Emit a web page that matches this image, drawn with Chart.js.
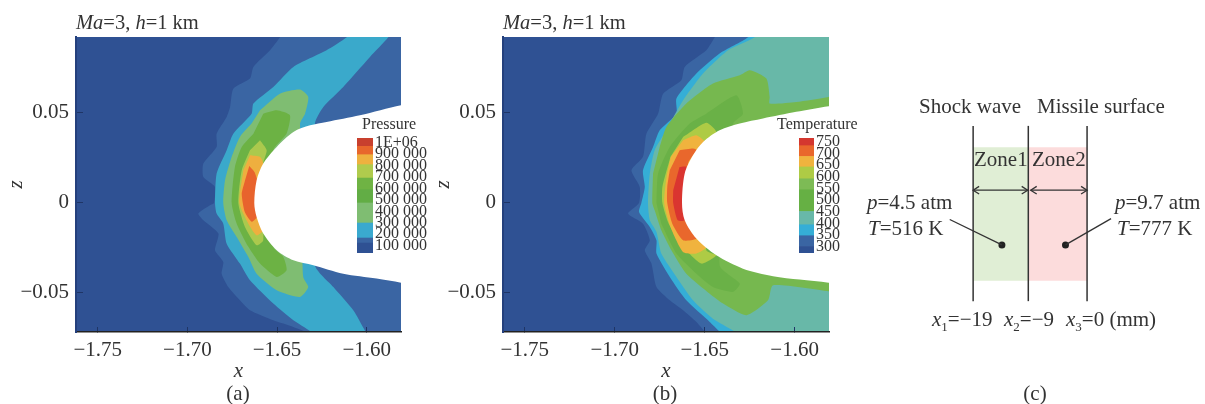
<!DOCTYPE html>
<html>
<head>
<meta charset="utf-8">
<script src="https://cdn.jsdelivr.net/npm/chart.js@4/dist/chart.umd.min.js"></script>
<style>
  html, body { margin: 0; padding: 0; background: #fff; }
  #page { position: relative; width: 1205px; height: 404px; overflow: hidden; font-family: "Liberation Serif", serif; color: #333; }
  canvas { position: absolute; }
  .t { position: absolute; white-space: nowrap; transform: translateY(-50%); font-size: 21px; line-height: 1; }
  .c { transform: translate(-50%, -50%); }
  .s { font-size: 16px; }
  sub { font-size: 13px; line-height: 0; }
</style>
</head>
<body>
<div id="page">
  <canvas id="panelA" width="430" height="404" style="left:0;top:0"></canvas>
  <canvas id="panelB" width="430" height="404" style="left:427px;top:0"></canvas>
  <canvas id="panelC" width="345" height="324" style="left:860px;top:80px"></canvas>
  <canvas id="barA" width="90" height="150" style="left:345px;top:115px"></canvas>
  <canvas id="barB" width="60" height="150" style="left:787px;top:115px"></canvas>

  <div class="t" style="left:76px;top:22px;font-size:20.5px"><i>Ma</i>=3, <i>h</i>=1 km</div>
  <div class="t" style="left:503px;top:22px;font-size:20.5px"><i>Ma</i>=3, <i>h</i>=1 km</div>
  <div class="t s" style="left:362px;top:124px">Pressure</div>
  <div class="t s" style="left:777px;top:124px">Temperature</div>
  <div class="t c" style="left:238px;top:393px">(a)</div>
  <div class="t c" style="left:665px;top:393px">(b)</div>
  <div class="t c" style="left:1035px;top:393px">(c)</div>

  <div class="t" style="left:919px;top:106px">Shock wave</div>
  <div class="t" style="left:1037px;top:106px">Missile surface</div>
  <div class="t" style="left:974px;top:159px">Zone1</div>
  <div class="t" style="left:1032px;top:159px">Zone2</div>
  <div class="t" style="left:867px;top:202px"><i>p</i>=4.5 atm</div>
  <div class="t" style="left:868px;top:228px"><i>T</i>=516 K</div>
  <div class="t" style="left:1115px;top:202px"><i>p</i>=9.7 atm</div>
  <div class="t" style="left:1117px;top:228px"><i>T</i>=777 K</div>
  <div class="t" style="left:932px;top:319px"><i>x</i><sub>1</sub>=−19</div>
  <div class="t" style="left:1004px;top:319px"><i>x</i><sub>2</sub>=−9</div>
  <div class="t" style="left:1066px;top:319px"><i>x</i><sub>3</sub>=0 (mm)</div>
</div>

<script>
// axis ticks
var xTicks = [-1.75, -1.70, -1.65, -1.60];
var zTicks = [-0.05, 0, 0.05];

// contour colours, outside to inside
var pressureColors = ["#2f5193", "#3a65a3", "#3aa9cb", "#7fbd72", "#6cb244", "#abc94d", "#eeaf3f", "#e8632d"];
var temperatureColors = ["#2f5193", "#3a65a3", "#35aed6", "#68b8a8", "#76b84f", "#6ab147", "#aecb45", "#f0b33e", "#e9672c", "#da3530"];

// far field, same for both panels
var farField = [[-1.8,0.1],[-1.57,0.1],[-1.57,-0.08],[-1.8,-0.08]];

// pressure contours as [x, z]
var p1 = [[-1.6440,0.1],[-1.6484,.0920],[-1.6539,.0848],[-1.6632,.0756],[-1.6651,.0691],[-1.6744,.0635],[-1.6762,.0533],[-1.6781,.0478],[-1.6837,.0385],[-1.6837,.0311],[-1.6911,.0219],[-1.6911,.0144],[-1.6846,.0089],[-1.6852,0],[-1.6874,-.0013],[-1.6939,-.0059],[-1.6911,-.0096],[-1.6827,-.0170],[-1.6846,-.0263],[-1.6800,-.0328],[-1.6809,-.0393],[-1.6772,-.0467],[-1.6707,-.0541],[-1.6651,-.0596],[-1.6521,-.0652],[-1.6409,-.0689],[-1.6326,-.0726],[-1.6300,-.08],[-1.57,-.08],[-1.57,0.1]];
var p2 = [[-1.6050,0.1],[-1.6112,.0920],[-1.6224,.0848],[-1.6409,.0756],[-1.6521,.0644],[-1.6632,.0552],[-1.6642,.0496],[-1.6744,.0385],[-1.6781,.0293],[-1.6837,.0163],[-1.6846,0],[-1.6837,-.0059],[-1.6800,-.0115],[-1.6781,-.0226],[-1.6707,-.0337],[-1.6651,-.0430],[-1.6521,-.0559],[-1.6409,-.0652],[-1.6298,-.0726],[-1.6260,-.08],[-1.5960,-.08],[-1.6001,-.0726],[-1.6075,-.0596],[-1.6186,-.0467],[-1.6289,-.0346],[-1.6289,.0441],[-1.6242,.0533],[-1.6131,.0644],[-1.5982,.0811],[-1.5880,.0920],[-1.5830,0.1]];
var p3 = [[-1.6595,.0515],[-1.6484,.0607],[-1.6372,.0630],[-1.6326,.0589],[-1.6344,.0496],[-1.6372,.0441],[-1.6354,-.0411],[-1.6326,-.0467],[-1.6372,-.0522],[-1.6502,-.0485],[-1.6614,-.0393],[-1.6660,-.0300],[-1.6725,-.0189],[-1.6781,-.0096],[-1.6800,0],[-1.6790,.0126],[-1.6753,.0256],[-1.6707,.0367],[-1.6642,.0441]];
var p4 = [[-1.6577,.0496],[-1.6502,.0515],[-1.6428,.0487],[-1.6447,.0385],[-1.6521,.0293],[-1.6521,-.0244],[-1.6465,-.0300],[-1.6447,-.0374],[-1.6502,-.0411],[-1.6595,-.0337],[-1.6660,-.0244],[-1.6725,-.0115],[-1.6753,0],[-1.6735,.0200],[-1.6697,.0311],[-1.6632,.0385]];
var p5 = [[-1.6595,.0348],[-1.6558,.0293],[-1.6577,.0219],[-1.6577,-.0207],[-1.6614,-.0235],[-1.6679,-.0133],[-1.6716,0],[-1.6697,.0181],[-1.6651,.0293]];
var p6 = [[-1.6651,.0265],[-1.6595,.0256],[-1.6577,.0219],[-1.6577,-.0152],[-1.6614,-.0180],[-1.6660,-.0115],[-1.6710,0],[-1.6688,.0181]];
var p7 = [[-1.6655,.0205],[-1.6625,.0170],[-1.6600,.0080],[-1.6600,-.0060],[-1.6640,-.0105],[-1.6680,-.0050],[-1.6697,.0050],[-1.6680,.0120]];
var pressureBody = [[-1.57,.0553],[-1.5809,.0543],[-1.6038,.0487],[-1.6224,.0450],[-1.6316,.0431],[-1.6409,.0394],[-1.6502,.0311],[-1.6577,.0219],[-1.6614,.0126],[-1.6627,0],[-1.6614,-.0078],[-1.6577,-.0170],[-1.6502,-.0263],[-1.6409,-.0319],[-1.6298,-.0346],[-1.6131,-.0393],[-1.5945,-.0420],[-1.5809,-.0443],[-1.57,-.0465]];

// temperature contours
var t1 = [[-1.6400,0.1],[-1.6444,.0920],[-1.6491,.0848],[-1.6611,.0756],[-1.6630,.0682],[-1.6731,.0607],[-1.6759,.0496],[-1.6824,.0385],[-1.6843,.0256],[-1.6907,.0181],[-1.6861,.0089],[-1.6865,0],[-1.6926,-.0059],[-1.6843,-.0115],[-1.6805,-.0207],[-1.6833,-.0263],[-1.6796,-.0337],[-1.6768,-.0467],[-1.6694,-.0541],[-1.6620,-.0596],[-1.6546,-.0661],[-1.6491,-.0726],[-1.6450,-.08],[-1.57,-.08],[-1.57,0.1]];
var t2 = [[-1.6200,0.1],[-1.6259,.0920],[-1.6417,.0830],[-1.6546,.0719],[-1.6657,.0580],[-1.6657,.0496],[-1.6750,.0404],[-1.6787,.0311],[-1.6843,.0181],[-1.6833,.0089],[-1.6852,0],[-1.6865,-.0050],[-1.6805,-.0133],[-1.6768,-.0207],[-1.6768,-.0281],[-1.6694,-.0411],[-1.6602,-.0541],[-1.6472,-.0661],[-1.6407,-.0726],[-1.6350,-.08],[-1.57,-.08],[-1.57,0.1]];
var t3 = [[-1.6150,0.1],[-1.6222,.0920],[-1.6370,.0848],[-1.6509,.0719],[-1.6620,.0570],[-1.6713,.0404],[-1.6778,.0293],[-1.6805,.0163],[-1.6815,0],[-1.6805,-.0096],[-1.6768,-.0161],[-1.6741,-.0281],[-1.6657,-.0411],[-1.6565,-.0541],[-1.6454,-.0643],[-1.6315,-.0726],[-1.6250,-.08],[-1.57,-.08],[-1.57,0.1]];
var t4 = [[-1.6750,.0311],[-1.6713,.0422],[-1.6602,.0552],[-1.6454,.0663],[-1.6305,.0709],[-1.6250,.0737],[-1.6157,.0691],[-1.6139,.0589],[-1.6139,.0552],[-1.5991,.0561],[-1.5811,.0589],[-1.57,.0610],[-1.57,-.0510],[-1.5811,-.0491],[-1.6120,-.0457],[-1.6148,-.0541],[-1.6268,-.0624],[-1.6398,-.0559],[-1.6472,-.0504],[-1.6602,-.0393],[-1.6685,-.0263],[-1.6741,-.0152],[-1.6778,-.0041],[-1.6791,0],[-1.6787,.0163]];
var t5 = [[-1.6768,0],[-1.6759,.0163],[-1.6694,.0311],[-1.6583,.0441],[-1.6491,.0496],[-1.6324,.0598],[-1.6287,.0496],[-1.6342,.0441],[-1.6417,-.0346],[-1.6305,-.0448],[-1.6342,-.0494],[-1.6454,-.0467],[-1.6546,-.0393],[-1.6657,-.0281],[-1.6741,-.0115]];
var t6 = [[-1.6620,.0367],[-1.6491,.0446],[-1.6435,.0394],[-1.6491,.0330],[-1.6491,-.0263],[-1.6435,-.0291],[-1.6518,-.0337],[-1.6620,-.0244],[-1.6700,-.0115],[-1.6735,0],[-1.6735,.0089],[-1.6690,.0256]];
var t7 = [[-1.6620,.0348],[-1.6546,.0376],[-1.6491,.0330],[-1.6537,.0293],[-1.6491,-.0244],[-1.6546,-.0281],[-1.6620,-.0272],[-1.6690,-.0133],[-1.6725,0],[-1.6712,.0144],[-1.6688,.0256]];
var t8 = [[-1.6639,.0293],[-1.6565,.0302],[-1.6546,.0293],[-1.6593,.0219],[-1.6593,-.0115],[-1.6546,-.0198],[-1.6620,-.0207],[-1.6680,-.0115],[-1.6708,0],[-1.6708,.0089],[-1.6694,.0181]];
var t9 = [[-1.6640,.0200],[-1.6602,.0200],[-1.6600,0],[-1.6611,-.0096],[-1.6650,-.0096],[-1.6675,0],[-1.6675,.0070]];
var temperatureBody = [[-1.57,.0550],[-1.5811,.0537],[-1.5991,.0506],[-1.6176,.0469],[-1.6305,.0441],[-1.6417,.0404],[-1.6509,.0339],[-1.6565,.0265],[-1.6611,.0163],[-1.6626,0],[-1.6611,-.0096],[-1.6546,-.0198],[-1.6435,-.0291],[-1.6287,-.0365],[-1.6120,-.0407],[-1.5972,-.0426],[-1.5811,-.0443],[-1.57,-.0460]];

// colour bars
var pressureLevels = [100000, 200000, 300000, 400000, 500000, 600000, 700000, 800000, 900000, 1000000];
var pressureEdges = [36000, 123000, 167000, 298000, 473000, 589000, 691000, 808000, 895000, 968000, 1041000];
var pressureBarColors = ["#2f5193", "#3a65a3", "#3aa9cf", "#7fbd72", "#62ad45", "#6fb344", "#b0cb4d", "#eeb13f", "#e8672c", "#c8402e"];
var temperatureLevels = [300, 350, 400, 450, 500, 550, 600, 650, 700, 750];
var temperatureEdges = [273, 301, 347, 394, 451, 544, 591, 642, 687, 733, 766];
var temperatureBarColors = ["#2f5193", "#3a65a3", "#35aed6", "#68b8a8", "#66b044", "#7dbb55", "#aecb45", "#f0b33e", "#e9672c", "#d4372f"];

// schematic (c), x in mm, y in schematic height 0..100
var zoneEdges = [-19, -9.8, 0];
var zoneBottom = 11.7, zoneTop = 87.8;
var lineBottom = 0, lineTop = 100;
var arrowY = 63.3;
var probeX = [-14.2, -3.6];
var probeY = 32.1;
var leaderX = [-22.9, 4.0];
var leaderY = [46.6, 47.1];

var serif = "'Liberation Serif', serif";
var inkColor = "#333";

function toPoints(list){
    return list.map(function(p){ return {x: p[0], y: p[1]}; });
}

function contourSets(levels, colors, body){
    var sets = [];
    for(let i = 0; i < levels.length; i++){
        sets.push({data: toPoints(levels[i]), showLine: true, fill: "shape", backgroundColor: colors[i],
            borderWidth: 0, pointRadius: 0, tension: 0.2, order: 50 - i});
    }
    sets.push({data: toPoints(body), showLine: true, fill: "shape", backgroundColor: "#fff",
        borderWidth: 0, pointRadius: 0, tension: 0.3, order: 1});
    return sets;
}

function contourChart(id, levels, colors, body, areaLeft, areaRight){
    var canvas = document.getElementById(id);
    return new Chart(id, {
        type: "scatter",
        data: {datasets: contourSets(levels, colors, body)},
        options: {
            responsive: false,
            animation: false,
            events: [],
            layout: {padding: {top: 37, right: canvas.width - areaRight, bottom: 0, left: 0}},
            plugins: {legend: {display: false}, tooltip: {enabled: false}},
            scales: {
                x: {
                    type: "linear", min: -1.7621, max: -1.5809,
                    afterBuildTicks: function(scale){ scale.ticks = xTicks.map(function(v){ return {value: v}; }); },
                    afterFit: function(scale){ scale.height = 72; },
                    grid: {drawOnChartArea: false, tickLength: -5, tickColor: "#1f3566", z: 1},
                    border: {display: true, color: "#222", width: 1.5, z: 1},
                    ticks: {
                        color: inkColor, font: {family: serif, size: 21}, padding: 11, maxRotation: 0, autoSkip: false,
                        callback: function(v){ return "\u2212" + Math.abs(v).toFixed(2); }
                    },
                    title: {display: true, text: "x", color: inkColor, font: {family: serif, size: 21, style: "italic"}, padding: {top: 0, bottom: 20}}
                },
                y: {
                    type: "linear", min: -0.0717, max: 0.0922,
                    afterBuildTicks: function(scale){ scale.ticks = zTicks.map(function(v){ return {value: v}; }); },
                    afterFit: function(scale){ scale.width = areaLeft; },
                    grid: {drawOnChartArea: false, tickLength: -7, tickColor: "#1f3566", z: 1},
                    border: {display: true, color: "#24407c", width: 2, z: 1},
                    ticks: {
                        color: inkColor, font: {family: serif, size: 21}, padding: 14, autoSkip: false,
                        callback: function(v){ return v == 0 ? "0" : (v < 0 ? "\u2212" : "") + Math.abs(v).toFixed(2); }
                    },
                    title: {display: true, text: "z", color: inkColor, font: {family: serif, size: 21, style: "italic"}, padding: {top: 4, bottom: 0}}
                }
            }
        }
    });
}

function colorBar(id, edges, colors, levels, label, padLeft, axisWidth){
    var sets = [];
    for(let i = 0; i < colors.length; i++){
        sets.push({data: [[edges[i], edges[i + 1]]], backgroundColor: colors[i], borderWidth: 0, barPercentage: 1, categoryPercentage: 1});
    }
    return new Chart(id, {
        type: "bar",
        data: {labels: [""], datasets: sets},
        options: {
            responsive: false,
            animation: false,
            events: [],
            layout: {padding: {top: 23, right: 0, bottom: 12, left: padLeft}},
            plugins: {legend: {display: false}, tooltip: {enabled: false}},
            scales: {
                x: {display: false, stacked: true},
                y: {
                    position: "right", min: edges[0], max: edges[edges.length - 1],
                    afterBuildTicks: function(scale){ scale.ticks = levels.map(function(v){ return {value: v}; }); },
                    afterFit: function(scale){ scale.width = axisWidth; },
                    grid: {display: false, drawTicks: false},
                    border: {display: false},
                    ticks: {color: inkColor, font: {family: serif, size: 16, lineHeight: 1}, padding: 2, autoSkip: false, callback: label}
                }
            }
        }
    });
}

function segment(points, width){
    return {data: toPoints(points), showLine: true, borderColor: inkColor, borderWidth: width || 1.3, pointRadius: 0, fill: false};
}

function arrowSets(x0, x1, y){
    return [
        segment([[x0, y], [x1, y]]),
        segment([[x0 + 1, y + 2.2], [x0, y], [x0 + 1, y - 2.2]]),
        segment([[x1 - 1, y + 2.2], [x1, y], [x1 - 1, y - 2.2]])
    ];
}

function schematic(){
    var sets = [];
    zoneEdges.forEach(function(x){ sets.push(segment([[x, lineBottom], [x, lineTop]], 1.5)); });
    sets = sets.concat(arrowSets(zoneEdges[0], zoneEdges[1] - 0.1, arrowY));
    sets = sets.concat(arrowSets(zoneEdges[1] + 0.4, zoneEdges[2], arrowY));
    for(let i = 0; i < probeX.length; i++){
        sets.push(segment([[leaderX[i], leaderY[i]], [probeX[i], probeY]]));
        sets.push({data: [{x: probeX[i], y: probeY}], pointRadius: 3.5, backgroundColor: "#222", borderWidth: 0});
    }
    var zoneColors = ["#e0eed5", "#fcdcdc"];
    for(let i = 0; i < 2; i++){
        sets.push({data: toPoints([[zoneEdges[i], zoneBottom], [zoneEdges[i + 1], zoneBottom], [zoneEdges[i + 1], zoneTop], [zoneEdges[i], zoneTop]]),
            showLine: true, fill: "shape", backgroundColor: zoneColors[i], borderWidth: 0, pointRadius: 0});
    }
    return new Chart("panelC", {
        type: "scatter",
        data: {datasets: sets},
        options: {
            responsive: false,
            animation: false,
            events: [],
            plugins: {legend: {display: false}, tooltip: {enabled: false}},
            scales: {
                x: {display: false, type: "linear", min: -37.2, max: 19.0},
                y: {display: false, type: "linear", min: -56.4, max: 123.9}
            }
        }
    });
}

contourChart("panelA", [farField, p1, p2, p3, p4, p5, p6, p7], pressureColors, pressureBody, 76, 401);
contourChart("panelB", [farField, t1, t2, t3, t4, t5, t6, t7, t8, t9], temperatureColors, temperatureBody, 76, 402);
colorBar("barA", pressureEdges, pressureBarColors, pressureLevels, function(v){
    return v == 1000000 ? "1E+06" : (v / 1000) + " 000";
}, 12, 62);
colorBar("barB", temperatureEdges, temperatureBarColors, temperatureLevels, function(v){ return String(v); }, 12, 33);
schematic();
</script>
</body>
</html>
